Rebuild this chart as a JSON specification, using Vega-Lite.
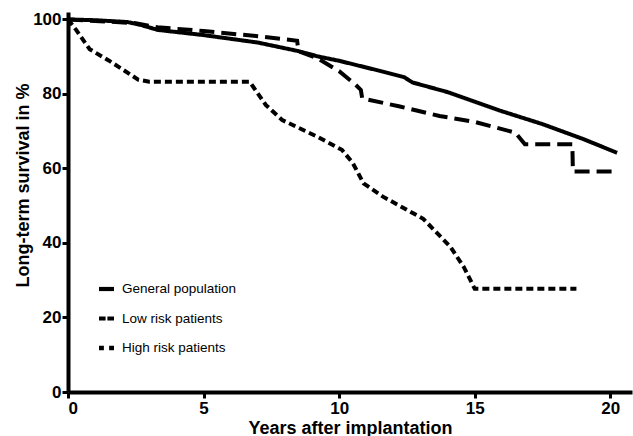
{
  "$schema": "https://vega.github.io/schema/vega-lite/v6.json",
  "autosize": {"type": "none"},
  "width": 564,
  "height": 380,
  "padding": {"left": 68, "top": 12, "right": 1, "bottom": 44},
  "background": "white",
  "config": {
    "view": {"stroke": null},
    "font": "Liberation Sans",
    "axis": {
      "grid": false,
      "domainColor": "black",
      "domainWidth": 4,
      "tickColor": "black",
      "tickWidth": 3,
      "tickSize": 6,
      "labelFont": "Liberation Sans",
      "labelFontWeight": "bold",
      "labelFontSize": 17,
      "labelColor": "black",
      "titleFont": "Liberation Sans",
      "titleFontWeight": "bold",
      "titleFontSize": 18,
      "titleColor": "black"
    }
  },
  "data": {
    "values": [
      {"series": "General population", "t": 0, "s": 100},
      {"series": "General population", "t": 1, "s": 99.8},
      {"series": "General population", "t": 2.2, "s": 99.3},
      {"series": "General population", "t": 2.7, "s": 98.5},
      {"series": "General population", "t": 3.3, "s": 97.2},
      {"series": "General population", "t": 5, "s": 95.8},
      {"series": "General population", "t": 7, "s": 93.8},
      {"series": "General population", "t": 8.5, "s": 91.5},
      {"series": "General population", "t": 9.2, "s": 90.1},
      {"series": "General population", "t": 10, "s": 88.9},
      {"series": "General population", "t": 11.5, "s": 86.2},
      {"series": "General population", "t": 12.4, "s": 84.5},
      {"series": "General population", "t": 12.7, "s": 83.1},
      {"series": "General population", "t": 14, "s": 80.5},
      {"series": "General population", "t": 15.9, "s": 75.6},
      {"series": "General population", "t": 17.5, "s": 71.9},
      {"series": "General population", "t": 19, "s": 67.9},
      {"series": "General population", "t": 20.25, "s": 64.2},
      {"series": "Low risk patients", "t": 0, "s": 100},
      {"series": "Low risk patients", "t": 2.5, "s": 99},
      {"series": "Low risk patients", "t": 3.3, "s": 97.9},
      {"series": "Low risk patients", "t": 5, "s": 96.9},
      {"series": "Low risk patients", "t": 7, "s": 95.5},
      {"series": "Low risk patients", "t": 8.45, "s": 94.3},
      {"series": "Low risk patients", "t": 8.5, "s": 91.5},
      {"series": "Low risk patients", "t": 9.2, "s": 89.6},
      {"series": "Low risk patients", "t": 10, "s": 86.1},
      {"series": "Low risk patients", "t": 10.6, "s": 82.5},
      {"series": "Low risk patients", "t": 10.8, "s": 81.1},
      {"series": "Low risk patients", "t": 10.85, "s": 78.8},
      {"series": "Low risk patients", "t": 12.2, "s": 76.7},
      {"series": "Low risk patients", "t": 13.7, "s": 74.1},
      {"series": "Low risk patients", "t": 15, "s": 72.5},
      {"series": "Low risk patients", "t": 16.5, "s": 69.6},
      {"series": "Low risk patients", "t": 16.85, "s": 66.5},
      {"series": "Low risk patients", "t": 18.6, "s": 66.5},
      {"series": "Low risk patients", "t": 18.62, "s": 59.2},
      {"series": "Low risk patients", "t": 20.3, "s": 59.2},
      {"series": "High risk patients", "t": 0, "s": 100},
      {"series": "High risk patients", "t": 0.3, "s": 97.2},
      {"series": "High risk patients", "t": 0.8, "s": 92},
      {"series": "High risk patients", "t": 1.5, "s": 89},
      {"series": "High risk patients", "t": 2.6, "s": 83.8},
      {"series": "High risk patients", "t": 3, "s": 83.3},
      {"series": "High risk patients", "t": 6.7, "s": 83.3},
      {"series": "High risk patients", "t": 7.3, "s": 77},
      {"series": "High risk patients", "t": 7.9, "s": 73},
      {"series": "High risk patients", "t": 9.2, "s": 68.5},
      {"series": "High risk patients", "t": 10.1, "s": 65},
      {"series": "High risk patients", "t": 10.5, "s": 61.5},
      {"series": "High risk patients", "t": 10.9, "s": 56},
      {"series": "High risk patients", "t": 11.6, "s": 52.5},
      {"series": "High risk patients", "t": 13.1, "s": 46.5},
      {"series": "High risk patients", "t": 14.1, "s": 39},
      {"series": "High risk patients", "t": 14.6, "s": 33.5},
      {"series": "High risk patients", "t": 15, "s": 27.7},
      {"series": "High risk patients", "t": 18.75, "s": 27.7}
    ]
  },
  "encoding": {
    "x": {
      "field": "t",
      "type": "quantitative",
      "scale": {"domain": [0, 20.8], "nice": false, "zero": false},
      "axis": {"values": [0, 5, 10, 15, 20], "title": "Years after implantation", "labelPadding": 2, "titleY": 41, "titleBaseline": "alphabetic"}
    },
    "y": {
      "field": "s",
      "type": "quantitative",
      "scale": {"domain": [0, 102], "nice": false},
      "axis": {"values": [0, 20, 40, 60, 80, 100], "title": "Long-term survival in %", "labelPadding": 1, "titleX": -40, "titleY": 173, "titleBaseline": "alphabetic", "titleAlign": "center", "titleAngle": 270}
    }
  },
  "layer": [
    {
      "mark": {"type": "line", "color": "black", "strokeWidth": 4, "clip": true},
      "encoding": {
        "detail": {"field": "series"},
        "strokeDash": {
          "field": "series",
          "type": "nominal",
          "scale": {
            "domain": ["General population", "Low risk patients", "High risk patients"],
            "range": [[1, 0], [15, 7], [7, 4]]
          },
          "legend": null
        }
      }
    },
    {
      "mark": {"type": "point", "size": 1, "filled": true, "color": "black", "opacity": 0},
      "encoding": {
        "shape": {
          "field": "series",
          "type": "nominal",
          "scale": {
            "domain": ["General population", "Low risk patients", "High risk patients"],
            "range": [
              "M-1,-0.28H1V0.28H-1Z",
              "M-1,-0.28H-0.12V0.28H-1Z M0.12,-0.28H1V0.28H0.12Z",
              "M-1,-0.3H-0.35V0.3H-1Z M0.35,-0.3H1V0.3H0.35Z"
            ]
          },
          "legend": {
            "title": null,
            "orient": "none",
            "legendX": 31,
            "legendY": 269.5,
            "symbolSize": 225,
            "symbolFillColor": "black",
            "symbolStrokeWidth": 0,
            "symbolOpacity": 1,
            "labelFont": "Liberation Sans",
            "labelFontSize": 13.5,
            "labelColor": "black",
            "labelOffset": 8,
            "rowPadding": 15.5
          }
        }
      }
    }
  ],
  "resolve": {
    "scale": {"strokeDash": "independent", "shape": "independent"},
    "legend": {"strokeDash": "independent", "shape": "independent"}
  }
}
